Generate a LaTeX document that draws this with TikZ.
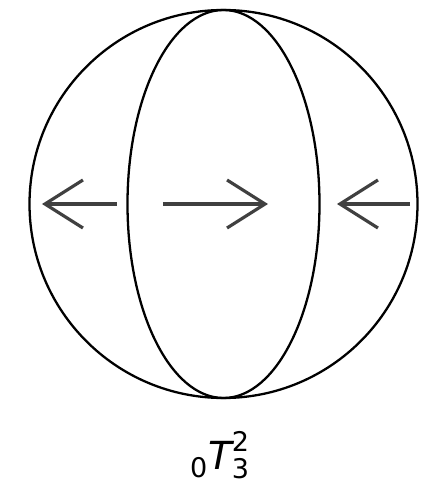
\documentclass[tikz,border=0pt]{standalone}
\usepackage{amsmath}
\usepackage{fontspec}
\setmainfont{DejaVu Sans}
\usepackage{tikz}
\usetikzlibrary{arrows.meta,positioning}

\begin{document}
\begin{tikzpicture}[
    outline/.style={draw, line width=1.3pt},
    flow/.style={draw=black!75, line width=1.8pt, -{Straight Barb[length=7.6mm, width=9.6mm, line width=1.8pt]}}
]
    \useasboundingbox (-4.47,-5.62) rectangle (4.11,4.08);

    % Sphere and meridian
    \draw[outline] (0,0) circle (3.88);
    \draw[outline] (0,0) ellipse (1.92 and 3.88);

    % Arrow ends
    \coordinate (lefttail) at (-2.13,0);
    \coordinate (lefttip) at (-3.63,0);
    \coordinate (midtail) at (-1.21,0);
    \coordinate (midtip) at (0.89,0);
    \coordinate (righttail) at (3.73,0);
    \coordinate (righttip) at (2.27,0);

    % Arrows
    \draw[flow] (lefttail) -- (lefttip);
    \draw[flow] (midtail) -- (midtip);
    \draw[flow] (righttail) -- (righttip);

    % Label
    \node (name) at (-0.07,-5.02) {\fontsize{22}{27}\selectfont $_{\text{0}}\text{\itshape T}^{\text{2}}_{\text{3}}$};
\end{tikzpicture}
\end{document}
